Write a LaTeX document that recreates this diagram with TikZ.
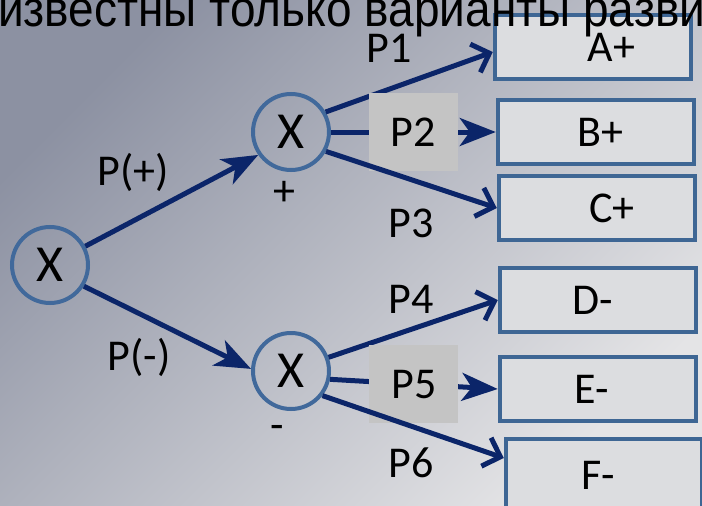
\documentclass[tikz,border=0pt]{standalone}
\usepackage{fontspec}
\setmainfont{Carlito}
\newfontfamily\headfont{Liberation Sans}
\usetikzlibrary{arrows.meta,positioning}

\definecolor{bgdark}{HTML}{8C91A2}
\definecolor{bglight}{HTML}{E4E4E6}
\definecolor{ringblue}{HTML}{41699B}
\definecolor{boxblue}{HTML}{3E6694}
\definecolor{boxfill}{HTML}{DCDDE0}
\definecolor{navy}{HTML}{0B2569}
\definecolor{pgray}{HTML}{C4C4C4}

\newcommand{\lblsize}{\fontsize{44}{44}\selectfont}

\begin{document}
\begin{tikzpicture}[x=1pt, y=-1pt,
  state/.style={circle, draw=ringblue, line width=4pt, minimum size=76pt, inner sep=0pt, font=\fontsize{52}{52}\selectfont},
  box/.style={draw=boxblue, line width=4.5pt, fill=boxfill, minimum width=196pt, minimum height=64pt, inner sep=0pt, font=\lblsize},
  pbox/.style={fill=pgray, minimum width=89pt, minimum height=78pt, inner sep=0pt, font=\lblsize},
  lbl/.style={font=\lblsize, inner sep=0pt},
  fwd/.style={draw=navy, line width=5pt, -{Stealth[length=36pt, width=28pt, inset=10pt]}},
  opn/.style={draw=navy, line width=5pt, -{Straight Barb[length=15pt, width=30pt]}}
]
  % background
  \useasboundingbox (0,0) rectangle (702,506);
  \clip (0,0) rectangle (702,506);
  \shade[top color=bgdark, bottom color=bglight, shading angle=45] (0,0) rectangle (702,506);

  % the three chance nodes
  \node[state] (root) at (50,265) {X};
  \node[state] (up) at (291,132) {X};
  \node[state] (down) at (291,371) {X};
  \node[lbl] (plus) at (284,193) {+};
  \node[lbl] (minus) at (277,432) {-};

  % outcome boxes
  \node[box] (A) at (593,47) {\hspace*{37pt}A+};
  \node[box] (B) at (596,132) {\hspace*{8pt}B+};
  \node[box] (C) at (597,208) {\hspace*{30pt}C+};
  \node[box] (D) at (598,300) {D-\hspace*{10pt}};
  \node[box] (E) at (598,389) {E-\hspace*{12pt}};
  \node[box, minimum height=72pt] (F) at (604,475) {F-\hspace*{12pt}};

  % first split
  \draw[fwd] (root.28) -- (up.215);
  \draw[fwd] (root.-32) -- (down.177);
  \node[lbl, anchor=base] (pplus) at (133,185) {P(+)};
  \node[lbl, anchor=base] (pminus) at (139,370) {P(-)};

  % upper branch
  \draw[opn] (up.30) -- ([yshift=-5pt]A.west);
  \draw[fwd] (up.east) -- node[pbox] (p2) {P2} (B.west);
  \draw[opn] (up.-29) -- (C.west);
  \node[lbl, anchor=base] (p1) at (389,62) {P1};
  \node[lbl, anchor=base] (p3) at (411,237) {P3};

  % lower branch
  \draw[opn] (down.20) -- (D.west);
  \draw[fwd] (down.-12) -- node[pbox] (p5) {P5} (E.west);
  \draw[opn] (down.-38) -- ([yshift=17pt]F.west);
  \node[lbl, anchor=base] (p4) at (411,313) {P4};
  \node[lbl, anchor=base] (p6) at (411,477) {P6};

  % heading, cut off by the frame
  \node[anchor=base west, inner sep=0pt, font=\headfont\fontsize{46}{46}\selectfont] (head) at (-2,27) {\scalebox{1}[1.1]{известны только варианты разви}};
\end{tikzpicture}
\end{document}
